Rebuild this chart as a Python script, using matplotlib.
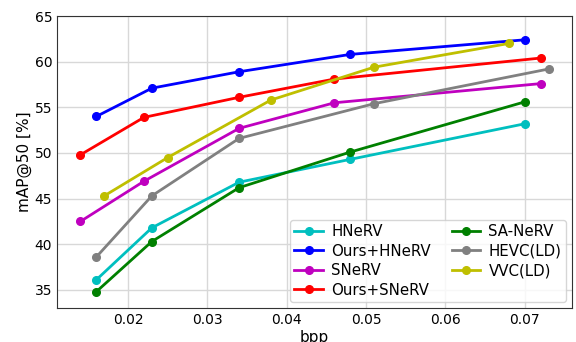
import matplotlib.pyplot as plt

# bpp / mAP@50 por método
bpp_hnerv = [0.016, 0.023, 0.034, 0.048, 0.070]
map_hnerv = [36.1, 41.8, 46.8, 49.3, 53.2]
map_ours_hnerv = [54.0, 57.1, 58.9, 60.8, 62.4]

bpp_snerv = [0.014, 0.022, 0.034, 0.046, 0.072]
map_snerv = [42.5, 46.9, 52.7, 55.5, 57.6]
map_ours_snerv = [49.8, 53.9, 56.1, 58.1, 60.4]

bpp_sanerv = [0.016, 0.023, 0.034, 0.048, 0.070]
map_sanerv = [34.8, 40.3, 46.2, 50.1, 55.6]

bpp_hevc = [0.016, 0.023, 0.034, 0.051, 0.073]
map_hevc = [38.6, 45.3, 51.6, 55.4, 59.2]

bpp_vvc = [0.017, 0.025, 0.038, 0.051, 0.068]
map_vvc = [45.3, 49.5, 55.8, 59.4, 62.0]

fig = plt.figure(figsize=(5.76, 3.42), dpi=100)
ax = fig.add_axes([0.099, 0.099, 0.894, 0.854])

estilo = dict(marker='o', linewidth=2, markersize=5.5)
ax.plot(bpp_hnerv, map_hnerv, color='c', label='HNeRV', **estilo)
ax.plot(bpp_hnerv, map_ours_hnerv, color='b', label='Ours+HNeRV', **estilo)
ax.plot(bpp_snerv, map_snerv, color='m', label='SNeRV', **estilo)
ax.plot(bpp_snerv, map_ours_snerv, color='r', label='Ours+SNeRV', **estilo)
ax.plot(bpp_sanerv, map_sanerv, color='g', label='SA-NeRV', **estilo)
ax.plot(bpp_hevc, map_hevc, color='gray', label='HEVC(LD)', **estilo)
ax.plot(bpp_vvc, map_vvc, color='y', label='VVC(LD)', **estilo)

ax.set_ylim(33, 65)
ax.set_yticks([35, 40, 45, 50, 55, 60, 65])
ax.set_xticks([0.02, 0.03, 0.04, 0.05, 0.06, 0.07])
ax.tick_params(labelsize=10, length=0, pad=3.5)
for s in ax.spines.values():
    s.set_color('#333333')
ax.grid(True, color='#d8d8d8', linewidth=1)
ax.set_axisbelow(True)
ax.set_xlabel('bpp', fontsize=11, labelpad=2)
ax.set_ylabel('mAP@50 [%]', fontsize=11, labelpad=2)
ax.legend(ncol=2, loc='lower right', fontsize=10.8, borderaxespad=0.4,
          handlelength=1.9, handletextpad=0.55, columnspacing=1.4,
          labelspacing=0.3, borderpad=0.3)

fig.savefig('out.png', dpi=100)
